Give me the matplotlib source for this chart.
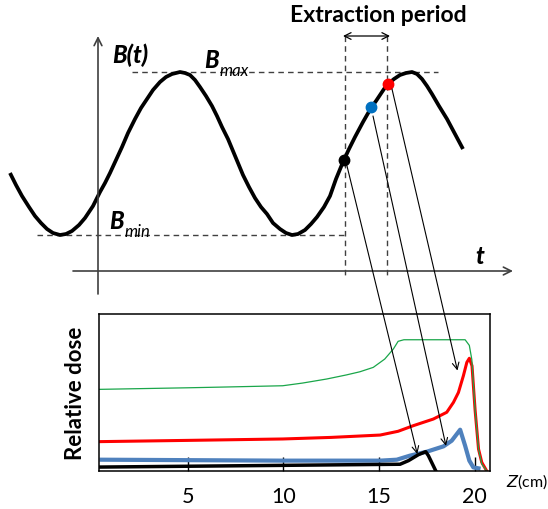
import matplotlib
matplotlib.use("Agg")
import matplotlib.pyplot as plt
from matplotlib.patches import ConnectionPatch

plt.rcParams['font.family'] = ['Lato', 'DejaVu Sans']

# ---- upper sketch: B(t) (t, B in sketch units)
t_curve = [-88, -82, -76, -69, -63, -57, -51, -45, -38, -32, -26, -19, -13, -5, 2, 7, 12, 18, 24,
           30, 37, 43, 49, 55, 62, 68, 74, 78, 82, 87, 92, 97, 102, 108, 114, 119, 124, 130,
           135, 140, 145, 151, 157, 163, 169, 175, 182, 188, 194, 200, 207, 213, 219, 226,
           232, 238, 245, 251, 257, 265, 273, 278, 282, 286, 290, 296, 302, 308, 314, 319,
           324, 329, 334, 341, 349, 357, 365]
b_curve = [98, 86, 75, 64, 55, 48, 42, 38, 36, 37, 40, 46, 53, 65, 79, 88, 98, 111, 124,
           138, 152, 163, 172, 181, 189, 194, 197, 198, 199, 198, 196, 191, 184, 175, 165, 155, 144, 132,
           120, 108, 96, 84, 73, 64, 57, 48, 42, 38, 36, 37, 41, 47, 54, 64,
           75, 92, 109, 122, 134, 149, 163, 170, 176, 182, 187, 192, 196, 198, 199, 197,
           192, 185, 177, 165, 152, 137, 122]
dot_t = [246, 273, 290]
dot_b = [111, 164, 187]
dot_colors = ['black', '#0070c0', 'red']
b_max = 199
b_min = 36
extraction = [247, 289]

# ---- lower plot: relative dose vs depth z (cm)
z_green = [0.38, 5, 7, 9.97, 11, 12.27, 13.3, 14.0, 14.7, 15.3, 15.75, 16.0, 16.3, 19.5, 19.72, 19.85,
           20.02, 20.2, 20.37, 20.63]
d_green = [0.52, 0.53, 0.535, 0.543, 0.56, 0.586, 0.612, 0.632, 0.66, 0.713, 0.777, 0.826, 0.836, 0.836,
           0.80, 0.71, 0.39, 0.14, 0.045, 0.0]
z_red = [0.38, 5, 9.97, 12.5, 15.06, 16.0, 16.8, 17.84, 18.54, 18.89, 19.15, 19.41, 19.59, 19.72, 19.86,
         20.02, 20.2, 20.37, 20.63]
d_red = [0.187, 0.195, 0.204, 0.214, 0.229, 0.253, 0.289, 0.331, 0.374, 0.437, 0.50, 0.607, 0.692, 0.718,
         0.67, 0.39, 0.14, 0.055, 0.0]
z_blue = [0.5, 9.97, 15.06, 15.93, 16.62, 17.5, 18.37, 18.8, 19.24, 19.5, 19.72, 19.93, 20.2]
d_blue = [0.072, 0.066, 0.066, 0.072, 0.098, 0.123, 0.157, 0.193, 0.263, 0.161, 0.066, 0.023, 0.017]
z_black = [0.38, 9.97, 16.1, 16.54, 17.06, 17.44, 17.58, 18.05]
d_black = [0.025, 0.036, 0.043, 0.066, 0.104, 0.123, 0.098, -0.02]
xticks = [5, 10, 15, 20]

# arrows: start on the B(t) curve, end on dose curves
arrow_start = [(249, 105), (275, 155), (294, 182)]
arrow_end = [(17.0, 0.108), (18.5, 0.16), (19.1, 0.64)]

fig = plt.figure(figsize=(5.48, 5.10), dpi=100)

ax = fig.add_axes([0, 210 / 510, 1, 300 / 510])
ax.set_xlim(-98, 450)
ax.set_ylim(-28, 272)
ax.axis('off')

dash = (0, (4, 3))
ax.plot([34, 340], [b_max, b_max], ls=dash, color='#404040', lw=1)
ax.plot([-61, extraction[0]], [b_min, b_min], ls=dash, color='#404040', lw=1)
for e in extraction:
    ax.plot([e, e], [235, -7], ls=dash, color='#404040', lw=1)

ax.annotate('', xy=(415, 0), xytext=(-25, 0),
            arrowprops=dict(arrowstyle='->', color='#404040', lw=1.2, mutation_scale=14,
                            shrinkA=0, shrinkB=0))
ax.annotate('', xy=(0, 235), xytext=(0, -23),
            arrowprops=dict(arrowstyle='->', color='#404040', lw=1.2, mutation_scale=14,
                            shrinkA=0, shrinkB=0))
ax.annotate('', xy=(extraction[0] - 2, 235), xytext=(extraction[1] + 3, 235),
            arrowprops=dict(arrowstyle='<->', color='black', lw=0.9, mutation_scale=12,
                            shrinkA=0, shrinkB=0))

ax.plot(t_curve, b_curve, color='black', lw=2.7, solid_joinstyle='round', solid_capstyle='butt')
for t, b, c in zip(dot_t, dot_b, dot_colors):
    ax.plot(t, b, 'o', color=c, markersize=7.5, zorder=5)

ax.text(14, 217, 'B(t)', fontsize=17, fontweight='black', style='italic', va='center')
ax.text(106, 211, 'B', fontsize=17, fontweight='black', style='italic', va='center')
ax.text(122, 201, 'max', fontsize=12, style='italic', va='center')
ax.text(11, 50, 'B', fontsize=17, fontweight='black', style='italic', va='center')
ax.text(27, 40, 'min', fontsize=12, style='italic', va='center')
ax.text(377, 15, 't', fontsize=17, fontweight='black', style='italic', va='center')
ax.text(280, 256, 'Extraction period', fontsize=16.5, fontweight='bold', ha='center', va='center')

# ---- dose panel
ax2 = fig.add_axes([99 / 548, 38 / 510, 391 / 548, 157 / 510])
ax2.plot(z_red, d_red, color='red', lw=2.2)
ax2.plot(z_blue, d_blue, color='#4f81bd', lw=3)
ax2.plot(z_black, d_black, color='black', lw=2.5)
ax2.plot(z_green, d_green, color='#1aa64a', lw=0.9)
ax2.set_xlim(0.37, 20.8)
ax2.set_ylim(0, 1)
ax2.set_xticks(xticks)
ax2.set_yticks([])
ax2.tick_params(axis='x', direction='in', length=10, width=1, labelsize=15.5, pad=11)
for s in ax2.spines.values():
    s.set_linewidth(1.1)
ax2.set_ylabel('Relative dose', fontsize=16, fontweight='bold', labelpad=9)
ax2.text(1.04, -0.065, '$Z$(cm)', transform=ax2.transAxes, fontsize=11.5, va='center')

for (a, b), (c, d) in zip(arrow_start, arrow_end):
    con = ConnectionPatch(xyA=(a, b), coordsA=ax.transData, xyB=(c, d), coordsB=ax2.transData,
                          arrowstyle='->', lw=0.8, color='black', mutation_scale=12,
                          shrinkA=0, shrinkB=0)
    fig.add_artist(con)

fig.savefig('out.png', dpi=100)
